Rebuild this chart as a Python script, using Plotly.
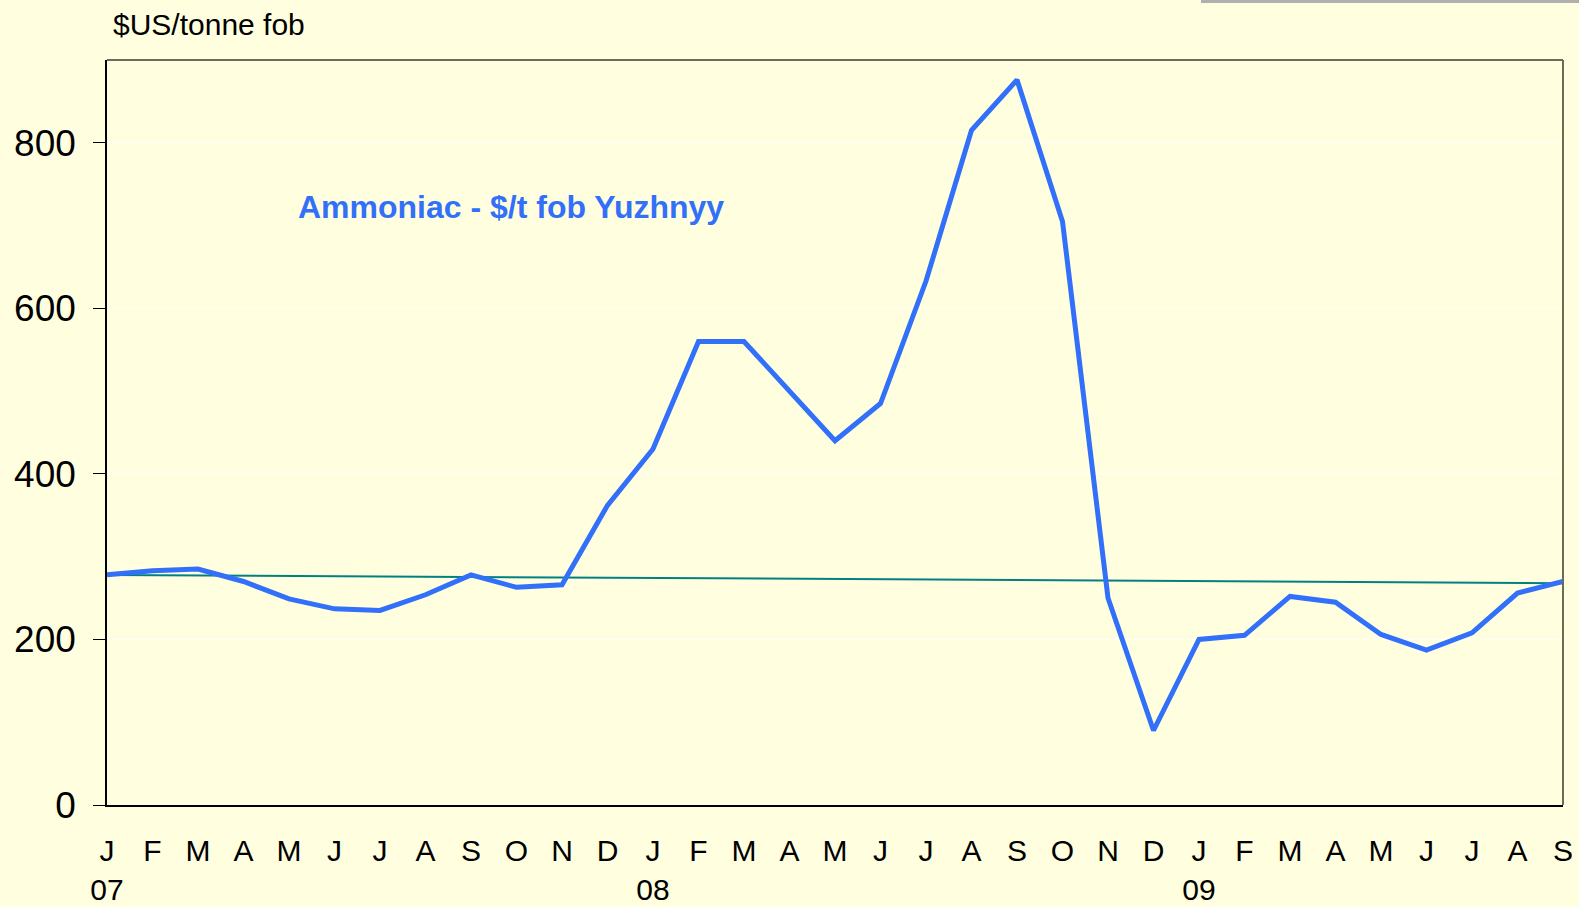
import plotly.graph_objects as go

months = ["J","F","M","A","M","J","J","A","S","O","N","D",
          "J","F","M","A","M","J","J","A","S","O","N","D",
          "J","F","M","A","M","J","J","A","S"]
years = {0: "07", 12: "08", 24: "09"}
ammoniac = [278, 283, 285, 270, 249, 237, 235, 254, 278, 263, 266, 362,
            430, 560, 560, 500, 440, 485, 633, 815, 876, 705, 250, 90,
            200, 205, 252, 245, 206, 187, 208, 256, 270]
trend_ends = [278, 268]

x_idx = list(range(len(months)))
ticktext = [m + ("<br>" + years[i] if i in years else "<br> ") for i, m in enumerate(months)]

L, R, T, B = 107, 1563, 60, 805
PW, PH = R - L, B - T

fig = go.Figure()
fig.add_trace(go.Scatter(x=[x_idx[0], x_idx[-1]], y=trend_ends, mode="lines",
                         line=dict(color="#008080", width=2), hoverinfo="skip", showlegend=False))
fig.add_trace(go.Scatter(x=x_idx, y=ammoniac, mode="lines",
                         line=dict(color="#3270FA", width=5), showlegend=False))

bg = "#FFFFE0"
fig.update_layout(
    width=1579, height=907,
    paper_bgcolor=bg, plot_bgcolor=bg,
    margin=dict(l=L, r=1579 - R, t=T, b=907 - B, autoexpand=False),
    font=dict(family="Liberation Sans, Arial, sans-serif", color="black"),
    showlegend=False,
)
fig.update_xaxes(range=[0, 32], tickmode="array", tickvals=x_idx, ticktext=ticktext,
                 showgrid=False, zeroline=False, showline=True, linecolor="black", linewidth=1.5,
                 ticks="", ticklabelstandoff=18, automargin=False,
                 tickfont=dict(size=30, family="Liberation Sans Narrow, Arial Narrow, Liberation Sans, Arial"))
fig.update_yaxes(range=[0, 900], tickvals=[0, 200, 400, 600, 800],
                 showgrid=True, gridcolor="#FFFFF6", gridwidth=1, zeroline=False,
                 showline=True, linecolor="black", linewidth=1.5, automargin=False,
                 ticks="outside", ticklen=12, tickcolor="black", ticklabelstandoff=10,
                 tickfont=dict(size=37))

# top/right border
fig.add_shape(type="line", xref="paper", yref="paper", x0=0, x1=1, y0=1, y1=1,
              line=dict(color="#6B6B5B", width=2))
fig.add_shape(type="line", xref="paper", yref="paper", x0=1, x1=1, y0=0, y1=1,
              line=dict(color="#6B6B5B", width=2))
# grey bar top right
fig.add_shape(type="rect", xref="paper", yref="paper", x0=(1201 - L) / PW, x1=(1579 - L) / PW,
              y0=(B - 0) / PH, y1=(B - 3) / PH, line=dict(width=0), fillcolor="#B0B0B0")

fig.add_annotation(text="$US/tonne fob", xref="paper", yref="paper",
                   x=(111 - L) / PW, y=(B - 25) / PH, xanchor="left", yanchor="middle",
                   showarrow=False, font=dict(size=30, color="black"))
fig.add_annotation(text="<b>Ammoniac - $/t fob Yuzhnyy</b>", xref="paper", yref="paper",
                   x=(296 - L) / PW, y=(B - 207) / PH, xanchor="left", yanchor="middle",
                   showarrow=False, font=dict(size=32, color="#3270FA"))

fig.write_html("out.html", config={"displayModeBar": False},
               post_script="document.body.style.margin='0';document.body.style.padding='0';"
                           "document.body.style.overflow='hidden';"
                           "document.body.style.background='#FFFFE0';")
